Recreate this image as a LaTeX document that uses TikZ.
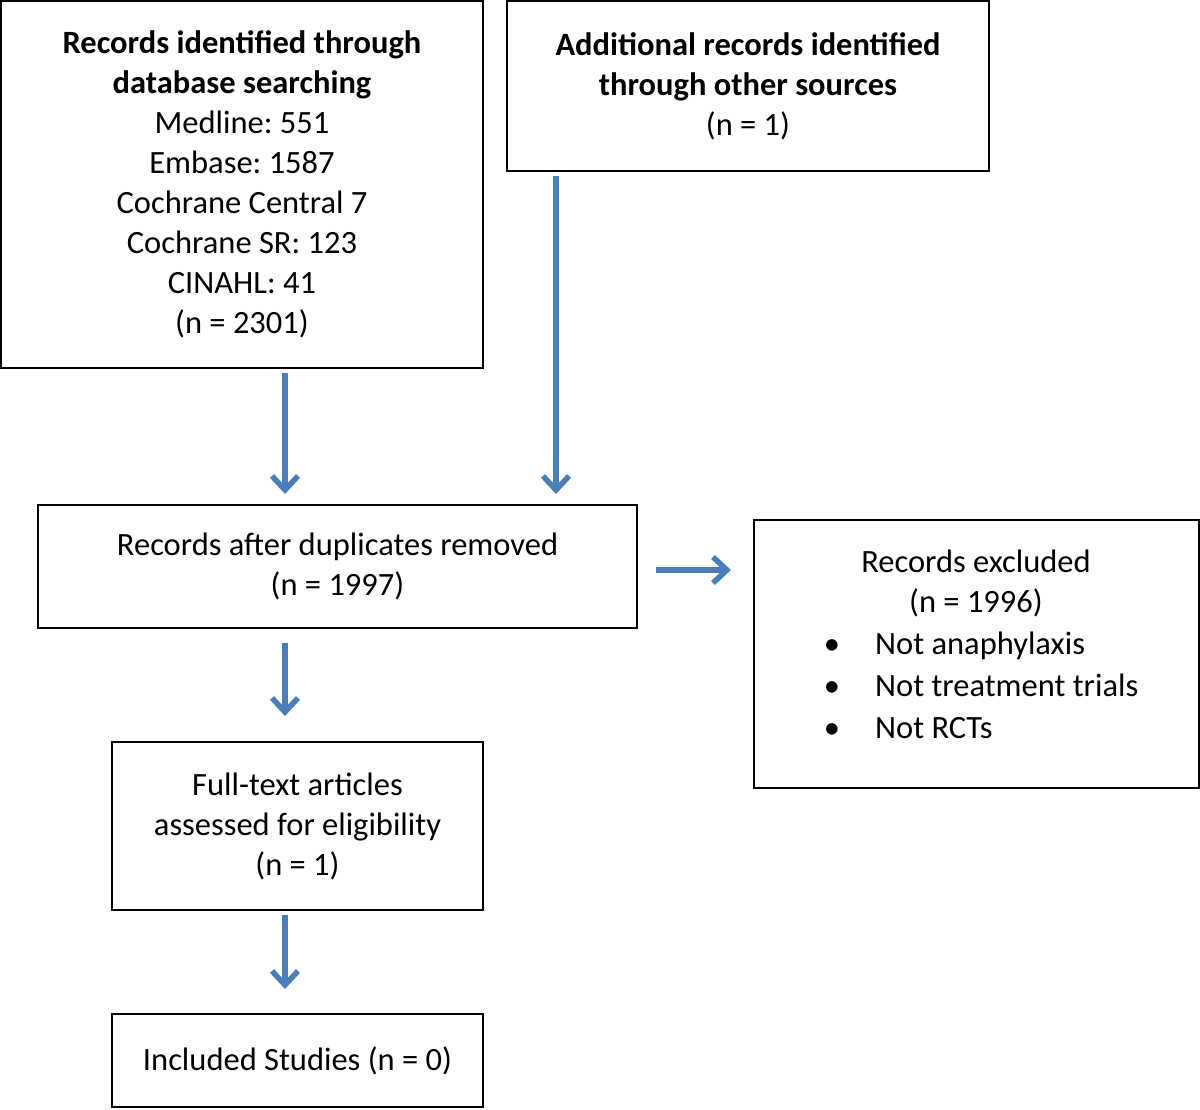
\documentclass[tikz,border=0pt]{standalone}
\usepackage{fontspec}
\setmainfont{Carlito}
\frenchspacing
\usetikzlibrary{arrows.meta}
\definecolor{arrblue}{HTML}{4A7EBB}
\begin{document}
\begin{tikzpicture}[x=1pt,y=-1pt,
 box/.style={draw=black,line width=2pt,inner sep=0pt,align=center,font=\fontsize{32.5}{40}\selectfont},
 txt/.style={inner sep=0pt,font=\fontsize{32.5}{40}\selectfont,text height=0.68em,text depth=0.18em},
 arr/.style={draw=arrblue,line width=5.5pt,-{Straight Barb[length=14pt,width=26pt,line width=5.5pt]}}]
\useasboundingbox (0,0) rectangle (1200,1109);
\node[box,minimum width=482pt,minimum height=367pt] (A) at (242,184.5)
 {\textbf{Records identified through}\\\textbf{database searching}\\Medline: 551\\Embase: 1587\\Cochrane Central 7\\Cochrane SR: 123\\CINAHL: 41\\(n = 2301)};
\node[box,minimum width=482pt,minimum height=170pt] (B) at (748,86)
 {\textbf{Additional records identified}\\\textbf{through other sources}\\(n = 1)};
\node[box,minimum width=599pt,minimum height=123pt] (C) at (337.5,566.5)
 {Records after duplicates removed\\(n = 1997)};
\node[box,minimum width=445pt,minimum height=268pt] (D) at (976.5,654) {};
\node[txt] (d1) at (976,570) {Records excluded};
\node[txt] (d2) at (976,610) {(n = 1996)};
\node[txt] (b1) at (832,652) {\textbullet};
\node[txt] (b2) at (832,694) {\textbullet};
\node[txt] (b3) at (832,736) {\textbullet};
\node[txt,anchor=west] (t1) at (875,652) {Not anaphylaxis};
\node[txt,anchor=west] (t2) at (875,694) {Not treatment trials};
\node[txt,anchor=west] (t3) at (875,736) {Not RCTs};
\node[box,minimum width=371pt,minimum height=168pt] (E) at (297.5,826)
 {Full-text articles\\assessed for eligibility\\(n = 1)};
\node[box,minimum width=371pt,minimum height=93pt] (F) at (297.5,1060.5)
 {Included Studies (n = 0)};
\coordinate (xa) at (285,0);
\coordinate (xb) at (556,0);
\coordinate (yc) at (0,570);
\draw[arr,shorten <=4pt,shorten >=10pt] (A.south -| xa) -- (C.north -| xa);
\draw[arr,shorten <=4pt,shorten >=10pt] (B.south -| xb) -- (C.north -| xb);
\draw[arr,shorten <=18pt,shorten >=22pt] (C.east |- yc) -- (D.west |- yc);
\draw[arr,shorten <=14pt,shorten >=25pt] (C.south -| xa) -- (E.north -| xa);
\draw[arr,shorten <=4pt,shorten >=24pt] (E.south -| xa) -- (F.north -| xa);
\end{tikzpicture}
\end{document}
